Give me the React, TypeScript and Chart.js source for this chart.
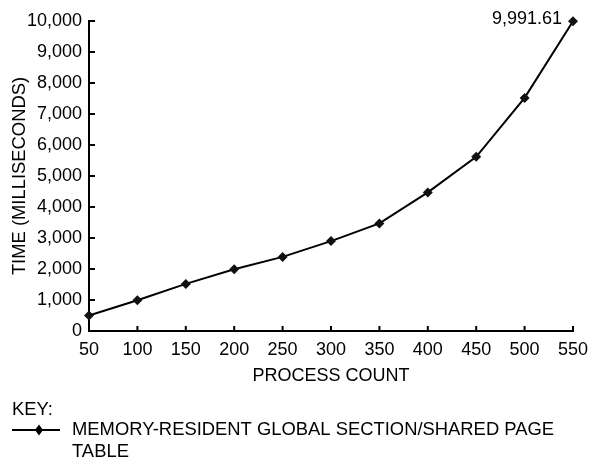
import { useEffect, useRef } from 'react';
import { Chart, registerables } from 'chart.js';

Chart.register(...registerables);

const categories = ['50', '100', '150', '200', '250', '300', '350', '400', '450', '500', '550'];
const timeMs = [500, 990, 1520, 1990, 2390, 2900, 3470, 4470, 5620, 7520, 9991.61];
const seriesLabel = 'MEMORY-RESIDENT GLOBAL SECTION/SHARED PAGE TABLE';
const xTitle = 'PROCESS COUNT';
const yTitle = 'TIME (MILLISECONDS)';
const keyTitle = 'KEY:';
const annotatedIndex = 10;
const yMin = 0;
const yMax = 10000;
const yStep = 1000;

const FONT = '"Liberation Sans", Arial, sans-serif';
const INK = '#000';

const tickMarks = {
  id: 'tickMarks',
  afterDraw(chart: any) {
    const { ctx } = chart;
    const x = chart.scales.x;
    const y = chart.scales.y;
    ctx.save();
    ctx.strokeStyle = INK;
    ctx.lineWidth = 2;
    ctx.beginPath();
    x.ticks.forEach((_t: any, i: number) => {
      const px = x.getPixelForTick(i);
      ctx.moveTo(px, chart.chartArea.bottom);
      ctx.lineTo(px, chart.chartArea.bottom - 5);
    });
    y.ticks.forEach((_t: any, i: number) => {
      const py = y.getPixelForTick(i);
      ctx.moveTo(chart.chartArea.left, py);
      ctx.lineTo(chart.chartArea.left + 6, py);
    });
    ctx.stroke();
    ctx.restore();
  },
};

const valueLabel = {
  id: 'valueLabel',
  afterDatasetsDraw(chart: any) {
    const { ctx } = chart;
    const pt = chart.getDatasetMeta(0).data[annotatedIndex];
    const v = chart.data.datasets[0].data[annotatedIndex] as number;
    ctx.save();
    ctx.font = `18px ${FONT}`;
    ctx.fillStyle = INK;
    ctx.textAlign = 'right';
    ctx.textBaseline = 'middle';
    ctx.fillText(v.toLocaleString('en-US', { minimumFractionDigits: 2, maximumFractionDigits: 2 }), pt.x - 11, pt.y - 2);
    ctx.restore();
  },
};

const keyLegend = {
  id: 'keyLegend',
  afterDraw(chart: any) {
    const { ctx } = chart;
    ctx.save();
    ctx.font = `18.4px ${FONT}`;
    ctx.fillStyle = INK;
    ctx.textAlign = 'left';
    ctx.textBaseline = 'middle';
    ctx.fillText(keyTitle, 12, 410);
    // sample line + marker
    ctx.strokeStyle = INK;
    ctx.lineWidth = 2;
    ctx.beginPath();
    ctx.moveTo(12, 430);
    ctx.lineTo(60, 430);
    ctx.stroke();
    ctx.beginPath();
    ctx.moveTo(39, 424.5);
    ctx.lineTo(43, 430);
    ctx.lineTo(39, 435.5);
    ctx.lineTo(35, 430);
    ctx.closePath();
    ctx.fill();
    // wrapped label
    const words = seriesLabel.split(' ');
    const maxW = 500;
    const lines: string[] = [];
    let cur = '';
    words.forEach((w) => {
      const test = cur ? cur + ' ' + w : w;
      if (ctx.measureText(test).width > maxW && cur) {
        lines.push(cur);
        cur = w;
      } else cur = test;
    });
    if (cur) lines.push(cur);
    lines.forEach((l, i) => ctx.fillText(l, 72, 430 + i * 21.5));
    ctx.restore();
  },
};

export default function App() {
  const ref = useRef<HTMLCanvasElement>(null);
  useEffect(() => {
    document.body.style.margin = '0';
    const chart = new Chart(ref.current!, {
      type: 'line',
      data: {
        labels: categories,
        datasets: [
          {
            label: seriesLabel,
            data: timeMs,
            borderColor: INK,
            backgroundColor: INK,
            borderWidth: 2,
            pointStyle: 'rectRot',
            pointRadius: 5,
            pointBorderWidth: 0,
            pointBackgroundColor: '#111',
            tension: 0,
            clip: false as any,
          },
        ],
      },
      options: {
        animation: false,
        responsive: false,
        layout: { padding: { left: 0, top: 21, right: 19, bottom: 81.4 } },
        plugins: { legend: { display: false }, tooltip: { enabled: false } },
        scales: {
          x: {
            offset: false,
            grid: { display: false, drawTicks: false },
            border: { display: true, color: INK, width: 2 },
            ticks: { color: INK, font: { family: FONT, size: 18 }, padding: 8, maxRotation: 0, autoSkip: false },
            title: { display: true, text: xTitle, color: INK, font: { family: FONT, size: 18 }, padding: { top: 0, bottom: 0 } },
            afterFit(scale: any) {
              scale.height = 55.6;
              scale.paddingLeft = 0;
              scale.paddingRight = 0;
            },
          },
          y: {
            min: yMin,
            max: yMax,
            grid: { display: false, drawTicks: false },
            border: { display: true, color: INK, width: 2 },
            ticks: {
              stepSize: yStep,
              color: INK,
              font: { family: FONT, size: 18 },
              padding: 7,
              callback: (v: any) => Number(v).toLocaleString('en-US'),
            },
            title: { display: true, text: yTitle, color: INK, font: { family: FONT, size: 18.4 }, padding: { top: 9, bottom: 0 } },
            afterFit(scale: any) {
              scale.width = 89;
              scale.paddingTop = 0;
              scale.paddingBottom = 0;
            },
          },
        },
      },
      plugins: [tickMarks, valueLabel, keyLegend],
    });
    return () => chart.destroy();
  }, []);
  return <canvas ref={ref} width={592} height={468} style={{ display: 'block', width: 592, height: 468 }} />;
}
